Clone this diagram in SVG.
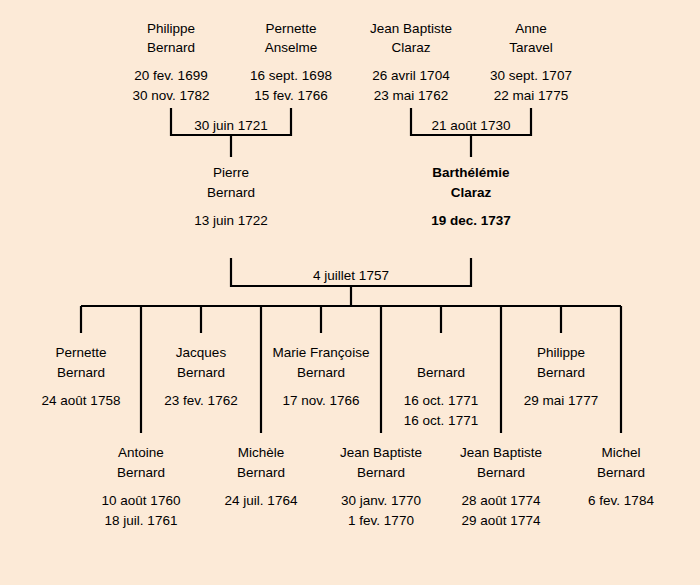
<svg xmlns="http://www.w3.org/2000/svg" width="700" height="585" viewBox="0 0 700 585">
<style>
text{font-family:"Liberation Sans","DejaVu Sans",sans-serif;font-size:13.5px;fill:#000;text-anchor:middle}
.b{font-weight:bold}
.c{stroke:#000;stroke-width:2.2;fill:none;stroke-linecap:butt}
</style>
<rect width="700" height="585" fill="#FCEAD7"/>
<g id="connectors" class="c">
<path d="M171,108V135H291V108M231,135V157"/>
<path d="M411,108V135H531V108M471,135V157"/>
<path d="M231,258V286H471V258M351,286V306"/>
<path d="M81,306H621"/>
<path d="M81,306V333M201,306V333M321,306V333M441,306V333M561,306V333"/>
<path d="M141,306V433M261,306V433M381,306V433M501,306V433M621,306V433"/>
</g>
<g id="philippe-bernard"><text x="171" y="33">Philippe</text><text x="171" y="52">Bernard</text><text x="171" y="80">20 fev. 1699</text><text x="171" y="100">30 nov. 1782</text></g>
<g id="pernette-anselme"><text x="291" y="33">Pernette</text><text x="291" y="52">Anselme</text><text x="291" y="80">16 sept. 1698</text><text x="291" y="100">15 fev. 1766</text></g>
<g id="jean-baptiste-claraz"><text x="411" y="33">Jean Baptiste</text><text x="411" y="52">Claraz</text><text x="411" y="80">26 avril 1704</text><text x="411" y="100">23 mai 1762</text></g>
<g id="anne-taravel"><text x="531" y="33">Anne</text><text x="531" y="52">Taravel</text><text x="531" y="80">30 sept. 1707</text><text x="531" y="100">22 mai 1775</text></g>
<g id="marriage-1721"><text x="231" y="130">30 juin 1721</text></g>
<g id="marriage-1730"><text x="471" y="130">21 août 1730</text></g>
<g id="pierre-bernard"><text x="231" y="177">Pierre</text><text x="231" y="197">Bernard</text><text x="231" y="225">13 juin 1722</text></g>
<g id="barthelemie-claraz"><text x="471" y="177" class="b">Barthélémie</text><text x="471" y="197" class="b">Claraz</text><text x="471" y="225" class="b">19 dec. 1737</text></g>
<g id="marriage-1757"><text x="351" y="280">4 juillet 1757</text></g>
<g id="pernette-bernard"><text x="81" y="357">Pernette</text><text x="81" y="377">Bernard</text><text x="81" y="405">24 août 1758</text></g>
<g id="antoine-bernard"><text x="141" y="457">Antoine</text><text x="141" y="477">Bernard</text><text x="141" y="505">10 août 1760</text><text x="141" y="525">18 juil. 1761</text></g>
<g id="jacques-bernard"><text x="201" y="357">Jacques</text><text x="201" y="377">Bernard</text><text x="201" y="405">23 fev. 1762</text></g>
<g id="michele-bernard"><text x="261" y="457">Michèle</text><text x="261" y="477">Bernard</text><text x="261" y="505">24 juil. 1764</text></g>
<g id="marie-francoise-bernard"><text x="321" y="357">Marie Françoise</text><text x="321" y="377">Bernard</text><text x="321" y="405">17 nov. 1766</text></g>
<g id="jean-baptiste-bernard-1770"><text x="381" y="457">Jean Baptiste</text><text x="381" y="477">Bernard</text><text x="381" y="505">30 janv. 1770</text><text x="381" y="525">1 fev. 1770</text></g>
<g id="bernard-1771"><text x="441" y="377">Bernard</text><text x="441" y="405">16 oct. 1771</text><text x="441" y="425">16 oct. 1771</text></g>
<g id="jean-baptiste-bernard-1774"><text x="501" y="457">Jean Baptiste</text><text x="501" y="477">Bernard</text><text x="501" y="505">28 août 1774</text><text x="501" y="525">29 août 1774</text></g>
<g id="philippe-bernard-1777"><text x="561" y="357">Philippe</text><text x="561" y="377">Bernard</text><text x="561" y="405">29 mai 1777</text></g>
<g id="michel-bernard"><text x="621" y="457">Michel</text><text x="621" y="477">Bernard</text><text x="621" y="505">6 fev. 1784</text></g>
</svg>
